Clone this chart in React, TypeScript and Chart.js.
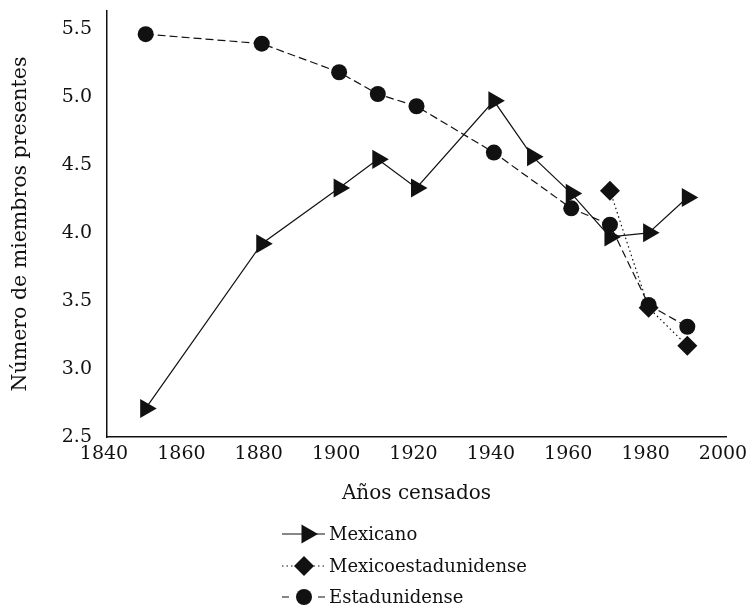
import React, { useEffect, useRef } from "react";
import { Chart, registerables } from "chart.js";
import { drawPoint } from "chart.js/helpers";

Chart.register(...registerables);

// ---- Data ----
const mexicanoYears = [1850, 1880, 1900, 1910, 1920, 1940, 1950, 1960, 1970, 1980, 1990];
const mexicanoValues = [2.71, 3.92, 4.33, 4.54, 4.33, 4.97, 4.56, 4.29, 3.97, 4.0, 4.26];

const mexEstYears = [1970, 1980, 1990];
const mexEstValues = [4.31, 3.45, 3.17];

const estadunidenseYears = [1850, 1880, 1900, 1910, 1920, 1940, 1960, 1970, 1980, 1990];
const estadunidenseValues = [5.46, 5.39, 5.18, 5.02, 4.93, 4.59, 4.18, 4.06, 3.47, 3.31];

const seriesLabels = ["Mexicano", "Mexicoestadunidense", "Estadunidense"];
const xTitle = "Años censados";
const yTitle = "Número de miembros presentes";

const FONT = "'DejaVu Serif', 'Liberation Serif', serif";

const toPoints = (xs: number[], ys: number[]) => xs.map((x, i) => ({ x, y: ys[i] }));

const verticalLegend = {
  id: "verticalLegend",
  afterDraw(chart: any) {
    const ctx = chart.ctx as CanvasRenderingContext2D;
    const rowsY = [534, 566, 597];
    const lineX0 = 282;
    const lineX1 = 325;
    const markX = 304;
    const textX = 329;
    chart.data.datasets.forEach((ds: any, i: number) => {
      const y = rowsY[i];
      ctx.save();
      ctx.strokeStyle = ds.borderColor;
      ctx.lineWidth = ds.borderWidth;
      ctx.setLineDash(ds.legendDash || ds.borderDash || []);
      ctx.beginPath();
      ctx.moveTo(lineX0, y);
      ctx.lineTo(lineX1, y);
      ctx.stroke();
      ctx.setLineDash([]);
      ctx.fillStyle = ds.pointBackgroundColor;
      ctx.strokeStyle = ds.pointBorderColor;
      drawPoint(
        ctx,
        {
          pointStyle: ds.pointStyle,
          radius: ds.pointRadius,
          rotation: ds.pointRotation || 0,
          borderWidth: 0,
        } as any,
        markX + (ds.legendMarkOffset || 0),
        y
      );
      ctx.fillStyle = "#111";
      ctx.font = `18px ${FONT}`;
      ctx.textAlign = "left";
      ctx.textBaseline = "middle";
      ctx.fillText(ds.label, textX, y + 1);
      ctx.restore();
    });
  },
};

export default function App() {
  const canvasRef = useRef<HTMLCanvasElement | null>(null);

  useEffect(() => {
    document.body.style.margin = "0";
    const canvas = canvasRef.current;
    if (!canvas) return;
    const chart = new Chart(canvas, {
      type: "line",
      data: {
        datasets: [
          {
            label: seriesLabels[0],
            data: toPoints(mexicanoYears, mexicanoValues),
            borderColor: "#111",
            borderWidth: 1.2,
            pointStyle: "triangle",
            pointRotation: 90,
            pointRadius: 11,
            pointBackgroundColor: "#111",
            pointBorderColor: "#111",
            pointBorderWidth: 0,
            legendMarkOffset: 3,
          } as any,
          {
            label: seriesLabels[1],
            data: toPoints(mexEstYears, mexEstValues),
            borderColor: "#111",
            borderWidth: 1.2,
            borderDash: [1.5, 3],
            pointStyle: "rectRot",
            pointRadius: 10,
            pointBackgroundColor: "#111",
            pointBorderColor: "#111",
            pointBorderWidth: 0,
          } as any,
          {
            label: seriesLabels[2],
            data: toPoints(estadunidenseYears, estadunidenseValues),
            borderColor: "#111",
            borderWidth: 1.2,
            borderDash: [8, 4],
            legendDash: [7, 29],
            pointStyle: "circle",
            pointRadius: 8,
            pointBackgroundColor: "#111",
            pointBorderColor: "#111",
            pointBorderWidth: 0,
          } as any,
        ],
      },
      options: {
        animation: false,
        responsive: false,
        maintainAspectRatio: false,
        layout: { padding: { left: 0, right: 22, top: 10, bottom: 90 } },
        plugins: {
          legend: { display: false },
          tooltip: { enabled: false },
        },
        scales: {
          x: {
            type: "linear",
            min: 1840,
            max: 2000,
            grid: { display: false, drawTicks: false },
            border: { display: true, color: "#111", width: 1.5 },
            ticks: {
              stepSize: 20,
              padding: 6,
              labelOffset: -3,
              color: "#111",
              font: { family: FONT, size: 19 },
              maxRotation: 0,
              callback: (v: any) => String(v),
            },
            title: {
              display: true,
              text: xTitle,
              color: "#111",
              font: { family: FONT, size: 20 },
              padding: { top: 0, bottom: 11 },
            },
            afterFit: (scale: any) => {
              scale.height = 80;
              scale.paddingLeft = 0;
              scale.paddingRight = 0;
            },
          },
          y: {
            type: "linear",
            min: 2.5,
            max: 5.63,
            grid: { display: false, drawTicks: false },
            border: { display: true, color: "#111", width: 1.5 },
            ticks: {
              stepSize: 0.5,
              includeBounds: false,
              padding: 15,
              color: "#111",
              font: { family: FONT, size: 19 },
              callback: (v: any) => Number(v).toFixed(1),
            },
            title: {
              display: true,
              text: yTitle,
              color: "#111",
              font: { family: FONT, size: 20.5 },
              padding: { top: 8, bottom: 0 },
            },
            afterFit: (scale: any) => {
              scale.width = 107;
              scale.paddingTop = 0;
              scale.paddingBottom = 0;
            },
          },
        },
      },
      plugins: [verticalLegend],
    });
    return () => chart.destroy();
  }, []);

  return (
    <div style={{ position: "absolute", left: 0, top: 0, width: 748, height: 607, background: "#fff" }}>
      <canvas ref={canvasRef} width={748} height={607} style={{ width: 748, height: 607, display: "block" }} />
    </div>
  );
}
